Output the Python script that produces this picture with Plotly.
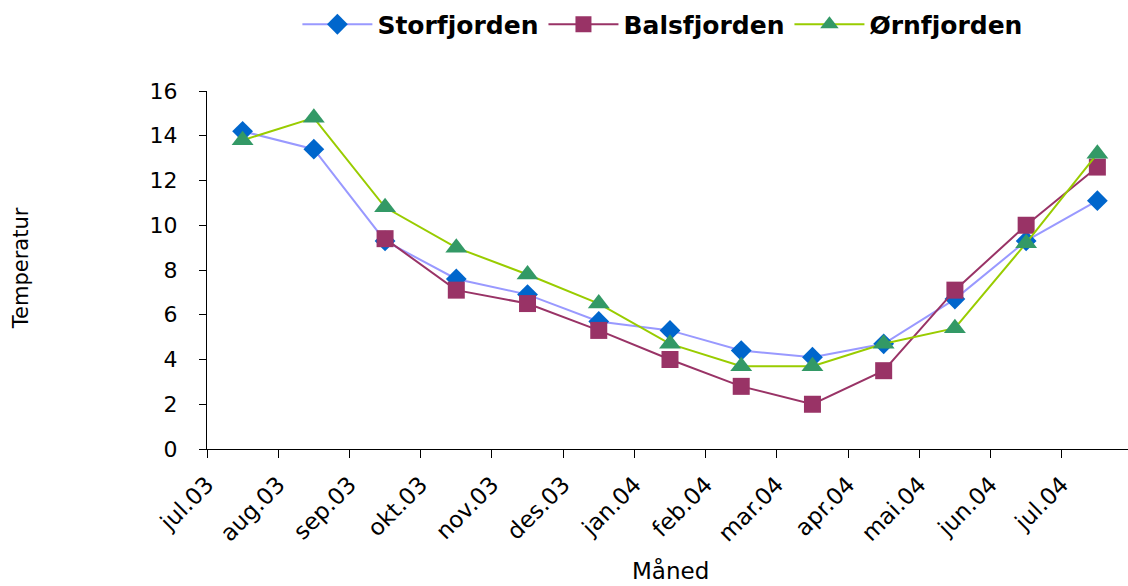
import plotly.graph_objects as go

# Monthly mean temperatures in three fjords, July 2003 - July 2004
months = ["jul.03", "aug.03", "sep.03", "okt.03", "nov.03", "des.03", "jan.04",
          "feb.04", "mar.04", "apr.04", "mai.04", "jun.04", "jul.04"]
storfjorden = [14.2, 13.4, 9.3, 7.6, 6.9, 5.7, 5.3, 4.4, 4.1, 4.7, 6.7, 9.3, 11.1]
balsfjorden = [None, None, 9.4, 7.1, 6.5, 5.3, 4.0, 2.8, 2.0, 3.5, 7.1, 10.0, 12.6]
ornfjorden = [13.8, 14.8, 10.8, 9.0, 7.8, 6.5, 4.7, 3.7, 3.7, 4.7, 5.4, 9.2, 13.2]

# points sit in the middle of each month slot; tick marks and labels on slot edges
xpos = [i + 0.5 for i in range(len(months))]

FONT = "DejaVu Sans"

series = [
    ("Storfjorden", storfjorden, "#9999FF", "#0066CC", "diamond", 16),
    ("Balsfjorden", balsfjorden, "#993366", "#993366", "square", 17),
    ("Ørnfjorden", ornfjorden, "#99CC00", "#339966", "triangle-up", 19),
]

fig = go.Figure()
for name, vals, lcol, mcol, sym, size in series:
    fig.add_trace(go.Scatter(
        x=xpos, y=vals, name=name, mode="lines+markers",
        line=dict(color=lcol, width=2),
        marker=dict(symbol=sym, size=size, color=mcol, line=dict(width=0)),
        connectgaps=False,
    ))

fig.update_layout(
    width=1128, height=586,
    margin=dict(l=207, r=0, t=91, b=137),
    paper_bgcolor="white", plot_bgcolor="white",
    font=dict(family=FONT, color="black"),
    showlegend=True,
    legend=dict(
        orientation="h", x=0.495, xanchor="center", y=1.25, yanchor="top",
        font=dict(family=FONT, size=25, color="black", weight="bold"),
        itemwidth=70, itemsizing="trace", traceorder="normal",
    ),
    xaxis=dict(
        range=[0, 12.93], tickmode="array",
        tickvals=list(range(len(months))), ticktext=months,
        tickangle=-45, ticks="outside", ticklen=8, tickcolor="black",
        showline=True, linecolor="black", linewidth=1,
        showgrid=False, zeroline=False, ticklabelstandoff=4,
        tickfont=dict(family=FONT, size=23, color="black"),
    ),
    yaxis=dict(
        range=[0, 16], dtick=2, ticks="outside", ticklen=7, tickcolor="black",
        showline=True, linecolor="black", linewidth=1,
        showgrid=False, zeroline=False, ticklabelstandoff=17,
        tickfont=dict(family=FONT, size=22, color="black"),
    ),
    annotations=[
        dict(text="Måned", xref="paper", yref="paper", x=0.503, y=-0.338,
             xanchor="center", yanchor="middle", showarrow=False,
             font=dict(family=FONT, size=23, color="black")),
        dict(text="Temperatur", xref="paper", yref="paper", x=-0.202, y=0.505,
             xanchor="center", yanchor="middle", textangle=-90, showarrow=False,
             font=dict(family=FONT, size=21, color="black")),
    ],
)

fig.write_html("out.html")
